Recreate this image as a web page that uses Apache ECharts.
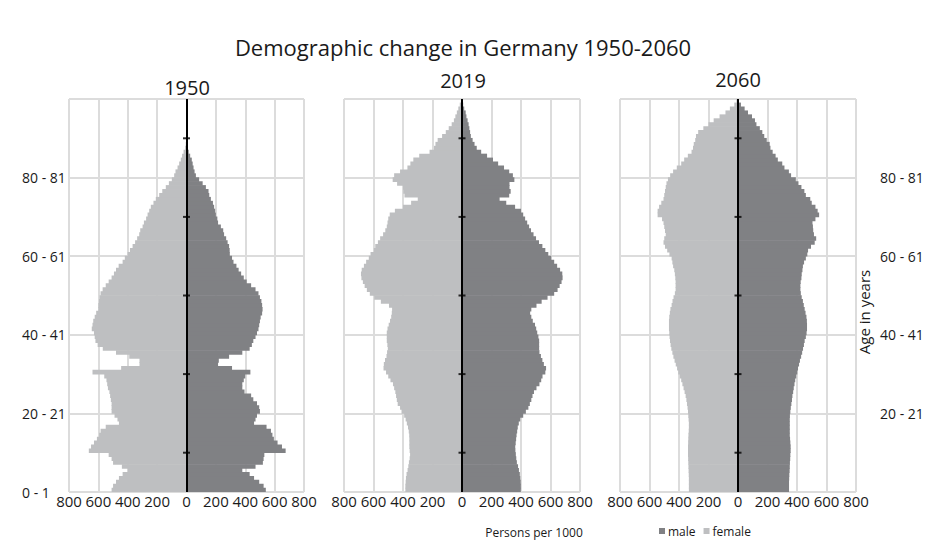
<!DOCTYPE html>
<html>
<head>
<meta charset="utf-8">
<script src="https://cdn.jsdelivr.net/npm/echarts@6/dist/echarts.min.js"></script>
<style>
html,body{margin:0;padding:0;background:#fff;}
#chart{width:929px;height:545px;}
</style>
</head>
<body>
<div id="chart"></div>
<script>
// ---------- DATA ----------
const chartTitle = 'Demographic change in Germany 1950-2060';
const panelYears = ['1950', '2019', '2060'];
const ageCategories = Array.from({length: 100}, (_, i) => String(i));
const ageTickLabels = ['0 - 1', '20 - 21', '40 - 41', '60 - 61', '80 - 81'];
const centerTickAges = [10, 30, 50, 70, 90];
const xTickValues = [-800, -600, -400, -200, 0, 200, 400, 600, 800];
const xAxisName = 'Persons per 1000';
const yAxisName = 'Age in years';
const seriesNames = ['male', 'female'];

// ages 0..99 (thousands)
const male1950 = [540,525,495,460,430,380,470,520,525,530,
  675,650,620,595,585,575,545,460,470,480,
  500,495,480,455,440,395,380,380,390,400,
  435,310,215,220,290,380,430,445,455,470,
  480,490,495,500,505,515,518,515,510,500,
  490,470,440,410,390,372,355,340,320,310,
  295,294,290,280,270,256,250,234,215,210,
  200,195,188,180,166,155,150,132,110,86,
  64,55,48,42,36,25,15,10,5,3,
  1,0,0,0,0,0,0,0,0,0];
const female1950 = [510,500,480,460,435,400,440,500,510,530,
  665,650,630,610,595,585,550,460,470,490,
  510,510,510,515,520,525,535,540,545,560,
  640,445,320,320,390,480,570,605,620,625,
  630,645,640,635,625,615,600,600,596,592,
  585,571,550,530,510,494,480,462,435,420,
  401,385,367,350,336,322,315,299,290,275,
  265,254,243,225,209,186,165,141,120,100,
  84,75,61,50,39,30,20,9,5,3,
  1,0,0,0,0,0,0,0,0,0];
const male2019 = [399,399,398,395,392,386,380,372,368,365,
  362,361,364,367,370,374,378,385,395,415,
  433,450,460,470,478,488,505,525,537,546,
  565,570,555,545,535,525,523,523,523,518,
  510,503,495,480,470,462,470,505,540,580,
  625,648,662,675,682,680,665,645,625,605,
  585,565,545,522,502,485,468,455,442,428,
  415,400,360,300,255,320,330,322,322,355,
  345,320,285,245,210,170,130,100,85,72,
  60,55,50,45,38,30,25,15,8,3];
const female2019 = [384,384,382,380,376,369,364,360,355,352,
  355,357,357,357,358,361,366,374,382,392,
  410,420,436,442,447,452,460,468,485,500,
  515,532,530,522,512,508,503,506,510,510,
  510,505,497,488,480,476,474,495,550,595,
  625,645,660,672,682,685,680,665,650,632,
  620,598,588,570,555,535,520,510,505,500,
  490,455,400,345,300,390,398,400,440,470,
  460,420,370,350,330,290,220,190,180,165,
  135,110,90,70,55,45,35,25,15,7];
const male2060 = [346,346,346,347,348,350,351,352,354,355,
  357,357,355,353,351,351,351,351,351,352,
  355,358,362,366,369,374,378,383,388,395,
  402,407,414,420,428,435,441,447,452,460,
  465,468,468,467,464,458,452,446,440,432,
  426,423,423,425,430,432,437,440,448,460,
  470,475,495,520,530,515,510,508,505,525,
  550,540,525,500,490,460,450,430,410,392,
  360,345,315,300,270,255,235,220,215,195,
  178,165,148,125,115,95,68,45,20,5];
const female2060 = [333,333,333,333,334,335,336,337,338,339,
  339,339,338,337,336,334,333,333,335,337,
  339,342,346,350,355,362,369,377,385,395,
  405,413,422,430,438,445,452,457,461,464,
  466,468,468,468,466,462,458,450,444,437,
  428,423,423,423,425,428,432,440,445,450,
  465,480,495,505,500,490,495,500,505,515,
  545,545,535,520,505,500,495,490,485,475,
  460,440,415,385,365,340,315,305,300,290,
  285,270,235,200,165,125,85,55,25,10];

const panels = [
  {male: male1950, female: female1950},
  {male: male2019, female: female2019},
  {male: male2060, female: female2060}
];

// ---------- STYLE ----------
const FONT = '"Open Sans", "Noto Sans", sans-serif';
const MALE_COLOR = '#808184';
const FEMALE_COLOR = '#bebfc1';
const GRID_COLOR = '#dcdcdc';
const TEXT_COLOR = '#1a1a1a';
const gridBoxes = [
  {left: 69, top: 99, width: 235, height: 393},
  {left: 344, top: 99, width: 236, height: 393},
  {left: 620, top: 99, width: 236, height: 393}
];
const panelTitlePos = [[187, 87], [463, 80], [738, 79]];

const chart = echarts.init(document.getElementById('chart'), null, {renderer: 'svg'});

const grid = gridBoxes.map(b => Object.assign({containLabel: false}, b));
const xAxis = gridBoxes.map((b, i) => ({
  type: 'value', gridIndex: i, min: xTickValues[0], max: xTickValues[xTickValues.length - 1],
  interval: 200,
  axisLine: {show: false, onZero: false}, axisTick: {show: false},
  axisLabel: {fontSize: 15, color: TEXT_COLOR, fontFamily: FONT, margin: 1,
    formatter: v => String(Math.abs(v))},
  splitLine: {show: true, lineStyle: {color: GRID_COLOR, width: 2}}
}));
const yAxis = [];
gridBoxes.forEach((b, i) => {
  // label / horizontal-grid axis
  yAxis.push({
    type: 'value', gridIndex: i, min: 0, max: 100, interval: 20,
    position: i === 2 ? 'right' : 'left',
    axisLine: {show: false}, axisTick: {show: false},
    axisLabel: {
      show: i !== 1, fontSize: 14, color: TEXT_COLOR, fontFamily: FONT,
      margin: i === 2 ? 24 : 47, align: 'left',
      formatter: v => {
        if (v >= 100) return '';
        if (i === 2 && v === 0) return '';
        return ageTickLabels[v / 20];
      }
    },
    splitLine: {show: true, lineStyle: {color: GRID_COLOR, width: 2}},
    z: 1
  });
  // category axis carrying the bars
  yAxis.push({
    type: 'category', gridIndex: i, data: ageCategories,
    position: i === 2 ? 'left' : 'right',
    axisLine: {show: false}, axisTick: {show: false},
    axisLabel: {show: false}, splitLine: {show: false}
  });
});

const series = [];
panels.forEach((p, i) => {
  series.push({
    name: seriesNames[0], type: 'bar', xAxisIndex: i, yAxisIndex: 2 * i + 1,
    stack: 'pyr' + i, barWidth: '118%', data: p.male,
    itemStyle: {color: MALE_COLOR},
    emphasis: {disabled: true}, silent: true, z: 2
  });
  series.push({
    name: seriesNames[1], type: 'bar', xAxisIndex: i, yAxisIndex: 2 * i + 1,
    stack: 'pyr' + i, barWidth: '118%', data: p.female.map(v => -v),
    itemStyle: {color: FEMALE_COLOR},
    emphasis: {disabled: true}, silent: true, z: 2
  });
  // centre axis line with its tick marks
  series.push({
    type: 'scatter', xAxisIndex: i, yAxisIndex: 2 * i,
    data: centerTickAges.map(a => [0, a]),
    symbol: 'rect', symbolSize: [7, 2], itemStyle: {color: '#000'},
    silent: true, z: 10,
    markLine: {
      silent: true, symbol: 'none', label: {show: false},
      lineStyle: {color: '#000', width: 2, type: 'solid'},
      data: [{xAxis: 0}]
    }
  });
});

const graphic = [];
graphic.push({type: 'text', x: 463, y: 47, silent: true,
  style: {text: chartTitle, fill: TEXT_COLOR, font: '22px ' + FONT, align: 'center', verticalAlign: 'middle'}});
panelYears.forEach((yr, i) => {
  graphic.push({type: 'text', x: panelTitlePos[i][0], y: panelTitlePos[i][1], silent: true,
    style: {text: yr, fill: TEXT_COLOR, font: '20px ' + FONT, align: 'center', verticalAlign: 'middle'}});
});
graphic.push({type: 'text', x: 534, y: 532, silent: true,
  style: {text: xAxisName, fill: TEXT_COLOR, font: '12px ' + FONT, align: 'center', verticalAlign: 'middle'}});
graphic.push({type: 'text', x: 864, y: 312, rotation: Math.PI / 2, silent: true,
  style: {text: yAxisName, fill: TEXT_COLOR, font: '15px ' + FONT, align: 'center', verticalAlign: 'middle'}});

chart.setOption({
  animation: false,
  backgroundColor: '#ffffff',
  textStyle: {fontFamily: FONT},
  grid, xAxis, yAxis, series, graphic,
  legend: {
    data: seriesNames, left: 654, top: 520, icon: 'rect', itemWidth: 6, itemHeight: 6,
    itemGap: 8, selectedMode: false,
    textStyle: {fontSize: 12, color: TEXT_COLOR, fontFamily: FONT, padding: [0, 0, 0, -2]}
  }
});
</script>
</body>
</html>
